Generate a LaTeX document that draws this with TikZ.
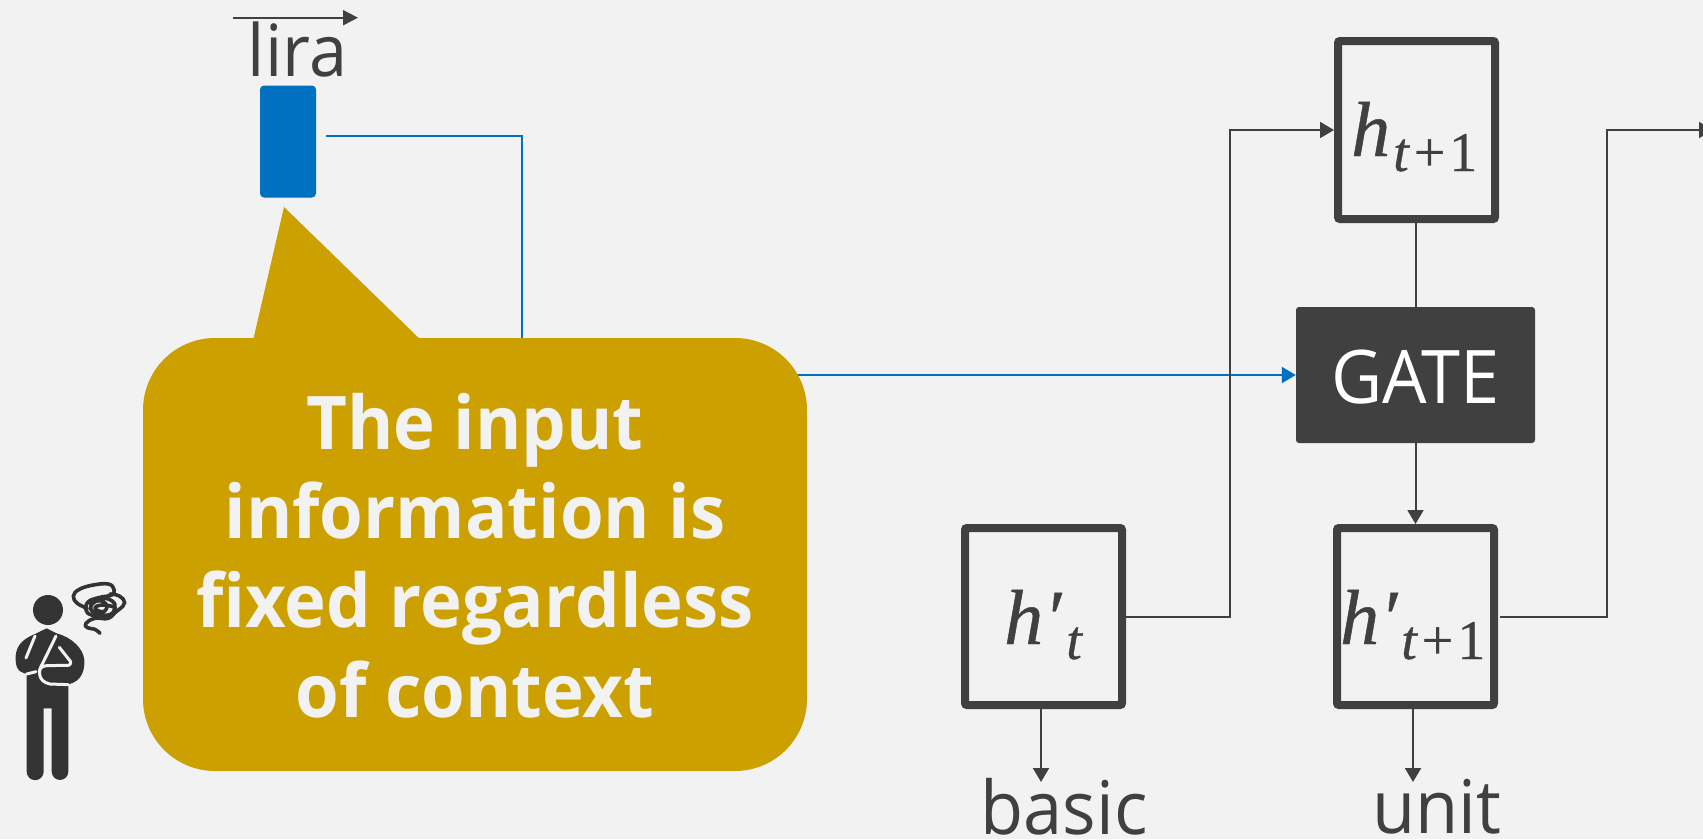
\documentclass[tikz,border=0pt]{standalone}
\usepackage{fontspec}
\setmainfont{Open Sans}[FakeStretch=0.95]
\newfontfamily\boldface{Open Sans}[FakeStretch=0.955]
\newfontfamily\mathish{Liberation Serif}[FakeBold=0.6]
\usetikzlibrary{arrows.meta,calc}
\definecolor{bgc}{HTML}{F2F2F2}
\definecolor{ink}{HTML}{404040}
\definecolor{blu}{HTML}{0070C0}
\definecolor{gold}{HTML}{CBA000}
\definecolor{man}{HTML}{333333}
\newcommand{\subpart}[1]{\raisebox{-15pt}{\fontsize{56}{56}\selectfont #1}}
\newcommand{\tplus}{t\kern5pt\upshape+\kern4pt 1}
\tikzset{
  x=1pt,y=-1pt,
  hbox/.style={draw=ink,line width=8pt,rounded corners=2pt,minimum width=157pt,minimum height=178pt,inner sep=0pt},
  lab/.style={text=ink,inner sep=0pt,anchor=base,font=\fontsize{74}{74}\selectfont},
  mth/.style={text=ink,inner sep=0pt,anchor=base west,font=\mathish\fontsize{78}{78}\selectfont},
  conn/.style={draw=ink,line width=2pt},
  arr/.style={conn,-{Triangle[length=14pt,width=16pt]}},
  bluearr/.style={draw=blu,line width=2.2pt,-{Triangle[length=14pt,width=16pt]}},
  gap/.style={draw=bgc,line width=3pt,line cap=round,line join=round},
  scrib/.style={draw=man,line width=3.6pt,line cap=round,line join=round},
  bubtxt/.style={text=bgc,inner sep=0pt,anchor=base,font=\boldface\bfseries\fontsize{74}{74}\selectfont}
}
\begin{document}
\begin{tikzpicture}
\fill[bgc] (0,0) rectangle (1703,839);
\useasboundingbox (0,0) rectangle (1703,839);

\node[fill=blu,rounded corners=4pt,minimum width=56pt,minimum height=112pt,inner sep=0pt] (input) at (288,141.5) {};
\node[hbox] (htnext) at (1416.5,130) {};
\node[fill=ink,rounded corners=3pt,minimum width=239pt,minimum height=136pt,inner sep=0pt] (gate) at (1415.5,375) {};
\node[hbox,minimum height=177pt] (hpt) at (1043.5,616.5) {};
\node[hbox,minimum height=177pt] (hpnext) at (1415.5,616.5) {};

\node[text=white,inner sep=0pt,anchor=base,font=\fontsize{74}{74}\selectfont] (gatetxt) at (1415.5,403) {GATE};
\node[lab,font=\fontsize{72}{72}\selectfont] (lira) at (297.5,76) {lira};
\node[lab] (basic) at (1064,834) {basic};
\node[lab] (unit) at (1437,833) {unit};
\node[mth] (m1) at (1351,156) {\itshape h\kern3pt\subpart{\tplus}};
\node[mth] (m2) at (1004,644) {\itshape h\kern1pt′\kern5pt\subpart{t}};
\node[mth] (m3) at (1340,644) {\itshape h\kern1pt′\kern4pt\subpart{\tplus}};

\coordinate (liraA) at (233,17.7);
\coordinate (liraB) at (358,17.7);
\coordinate (bstart) at (326,136);
\coordinate (bbend) at (522,136);
\coordinate (bbend2) at (522,375);
\coordinate (j1) at (1230,616.5);
\coordinate (j2) at (1230,130);
\coordinate (k0) at (1500,616.5);
\coordinate (k1) at (1607,616.5);
\coordinate (k2) at (1607,130);
\coordinate (kend) at (1713,130);
\coordinate (basicTip) at (1041,782);
\coordinate (unitTip) at (1413,782);

\draw[draw=ink,line width=2pt,-{Triangle[length=15pt,width=15pt]}] (liraA) -- (liraB);
\draw[draw=blu,line width=2.2pt] (bstart) -- (bbend) -- (bbend2);
\draw[bluearr] (bbend2) -- (gate.west);
\draw[arr] (hpt.east) -- (j1) -- (j2) -- (htnext.west);
\draw[arr] (k0) -- (k1) -- (k2) -- (kend);
\draw[conn] (htnext.south -| gate.north) -- (gate.north);
\draw[arr] (gate.south) -- (hpnext.north -| gate.south);
\draw[arr] (hpt.south -| basicTip) -- (basicTip);
\draw[arr] (hpnext.south -| unitTip) -- (unitTip);

\fill[gold] (284,207) -- (252,345) -- (426,345) -- cycle;
\node[fill=gold,rounded corners=72pt,minimum width=664pt,minimum height=433pt,inner sep=0pt] (bubble) at (475,554.5) {};
\node[bubtxt] (l1) at (475,449) {The input};
\node[bubtxt] (l2) at (475,538) {information is};
\node[bubtxt] (l3) at (475,627) {fixed regardless};
\node[bubtxt] (l4) at (475,717) {of context};

\begin{scope}[shift={(0,560)},x=0.33333pt,y=-0.33333pt]
  \fill[man] (144,150) circle (15pt);
  \fill[man] (80,340) -- (205,340) -- (205,635) arc[start angle=0,end angle=-180,radius=8.3pt]
     -- (155,445) -- (131,445) -- (131,635) arc[start angle=0,end angle=-180,radius=8.5pt] -- cycle;
  \fill[man] (105,222) .. controls (60,240) and (45,265) .. (47,300)
     .. controls (47,330) and (65,345) .. (90,340)
     -- (120,360) -- (150,375) -- (190,375)
     .. controls (235,372) and (255,345) .. (253,300)
     .. controls (250,265) and (215,232) .. (170,220)
     -- (140,205) -- cycle;
  \draw[gap] (105,228) -- (78,294);
  \draw[gap] (168,228) -- (128,310) .. controls (112,335) and (115,365) .. (150,372) -- (205,374);
  \draw[gap] (80,342) -- (108,335);
  \draw[gap] (178,262) -- (212,305) .. controls (213,315) and (205,318) .. (195,316) -- (140,317) .. controls (130,318) and (120,322) .. (118,332);
  \draw[scrib] plot[smooth,tension=0.7] coordinates {(262,145) (232,130) (220,108) (238,88) (280,75) (325,72) (342,88) (335,105) (300,112) (265,125) (258,150) (275,165) (320,170) (355,150) (374,128) (358,108) (330,102)};
  \draw[scrib] plot[smooth,tension=0.8] coordinates {(270,130) (300,115) (335,122) (345,145) (325,165) (285,158) (272,140) (295,122) (320,135) (310,155) (285,145) (305,135) (340,140)};
  \draw[scrib] plot[smooth,tension=0.8] coordinates {(345,155) (325,175) (285,175) (258,190) (262,203) (285,208) (300,220)};
\end{scope}
\end{tikzpicture}
\end{document}
